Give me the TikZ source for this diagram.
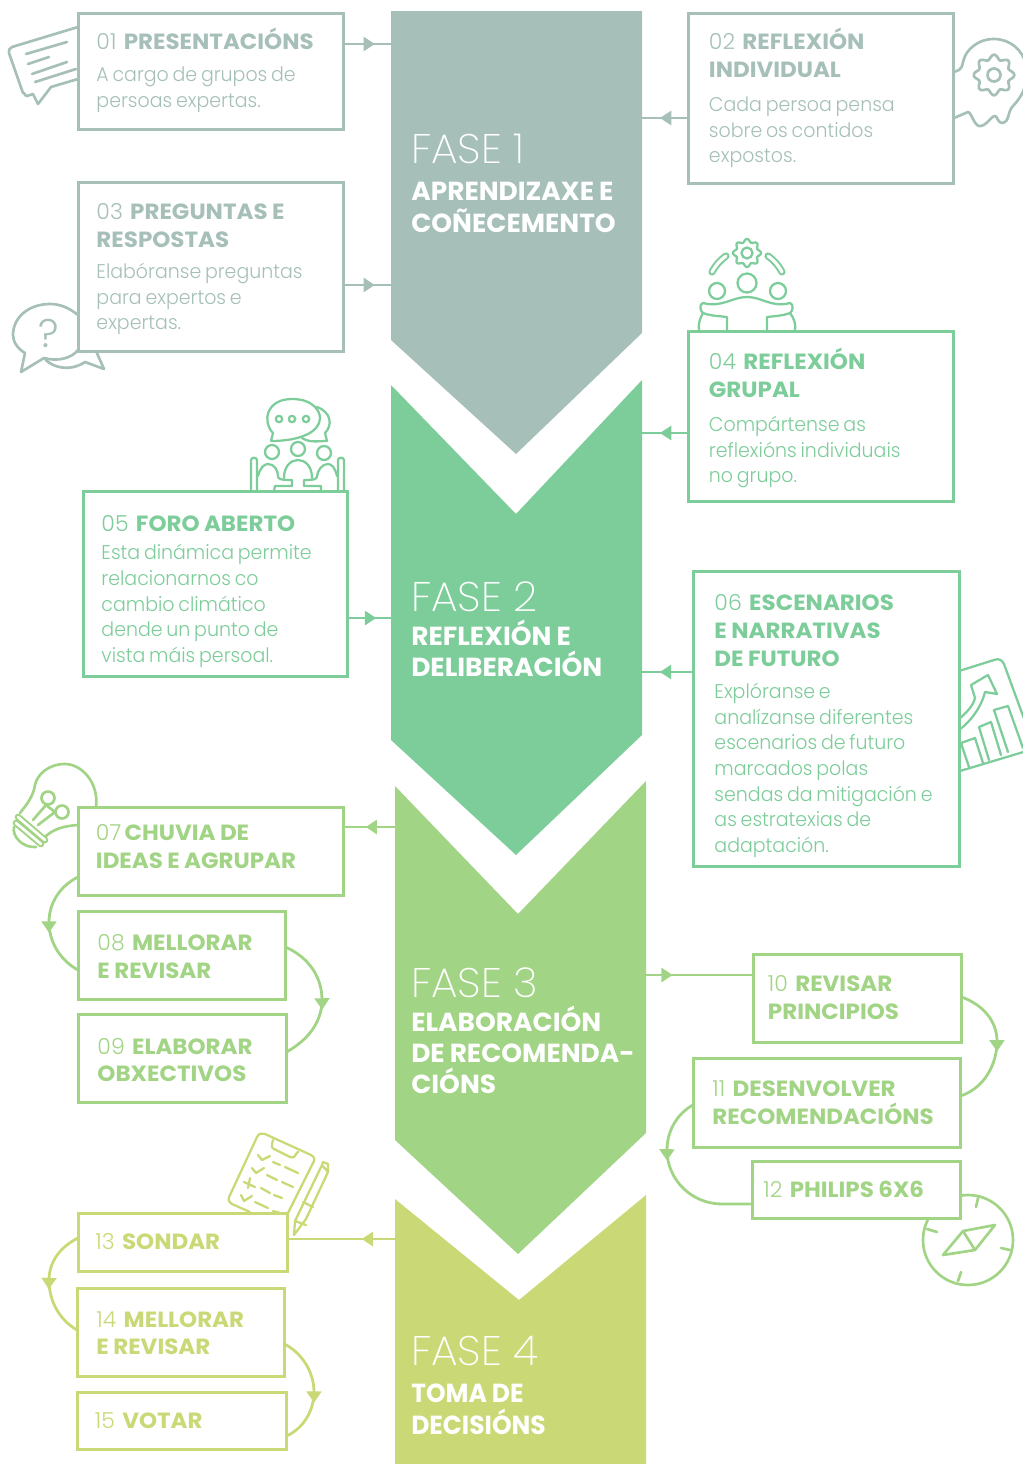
\documentclass[tikz,border=0pt]{standalone}
\usepackage{fontspec}
\setmainfont{Poppins}[UprightFont=* Light,BoldFont=* Bold,BoldFeatures={FakeStretch=1.045}]
\newfontfamily\thinf{Poppins}[UprightFont=* ExtraLight,FakeStretch=1.02]
\newfontfamily\bodyf{Poppins}[UprightFont=* Light,FakeStretch=0.955]
\newfontfamily\fnf{Poppins}[UprightFont=* Bold,FakeStretch=1.012]
\newfontfamily\fnnarrowf{Poppins}[UprightFont=* Bold,FakeStretch=0.955]
\newcommand{\hb}[1]{{\bfseries\spaceskip=.2em\relax #1}}
\newcommand{\bodytext}[1]{{\spaceskip=.19em\relax #1\par}}
\newcommand{\nametext}[1]{{\spaceskip=.19em\relax #1\par}}
\usetikzlibrary{arrows.meta,decorations.markings}
\definecolor{cA}{HTML}{A6C0B9}
\definecolor{cB}{HTML}{7DCD9A}
\definecolor{cC}{HTML}{A2D485}
\definecolor{cD}{HTML}{CAD976}
\newcommand{\boxnode}[6]{\node[tbox,draw=#6,minimum width={(#4-#2)*.75pt},minimum height={(#5-#3)*.75pt}] (#1) at ({(#2+#4)/2},{(#3+#5)/2}) {};}
\newcommand{\areanode}[5]{\node[inner sep=0pt,outer sep=0pt,minimum width={(#4-#2)*.75pt},minimum height={(#5-#3)*.75pt}] (#1) at ({(#2+#4)/2},{(#3+#5)/2}) {};}
\newcommand{\gearicon}[5]{\draw[#5,line join=round] plot[smooth cycle,samples=65,domain=0:354.375] ({#1+(#3+.13*#3*cos(8*\x))*cos(\x)},{#2+(#3+.13*#3*cos(8*\x))*sin(\x)});
 \draw[#5] (#1,#2) circle[radius=#4];}
\tikzset{
 x=.75pt,y=-.75pt,
 tbox/.style={fill=white,line width=2.25pt,inner sep=0pt,outer sep=0pt},
 hd/.style={anchor=base west,inner sep=0pt,xshift=-.6pt,text width=500pt,align=left,font=\fontsize{16.5}{21}\selectfont},
 bd/.style={anchor=base west,inner sep=0pt,xshift=-.6pt,text width=500pt,align=left,font=\bodyf\fontsize{14.9}{19.25}\selectfont},
 ftitle/.style={anchor=base west,inner sep=0pt,text=white,font=\thinf\fontsize{31}{32}\selectfont},
 fname/.style={anchor=base west,inner sep=0pt,text width=300pt,align=left,text=white,font=\fnf\fontsize{19.6}{23.6}\selectfont},
 conn/.style={line width=2.1pt},
 arrowat/.style={postaction={decorate,decoration={markings,mark=at position #1 with {\arrow{Triangle[length=8.5pt,width=10.5pt]}}}}},
 curvearrow/.style={postaction={decorate,decoration={markings,mark=at position #1 with {\arrow[xshift=8pt]{Triangle[length=8.5pt,width=11pt]}}}}},
 ico/.style={line width=2pt,line cap=round,line join=round},
 ico2/.style={line width=1.7pt,line cap=round,line join=round},
}
\begin{document}
\begin{tikzpicture}
\useasboundingbox (0,0) rectangle (1023,1464);
% chevrons
\fill[cA] (391,11)--(642,11)--(642,333)--(516,454)--(391,340)--cycle;
\fill[cB] (391,385)--(516,514)--(642,380)--(642,735)--(516,855)--(391,740)--cycle;
\fill[cC] (395,786)--(518,914)--(646,781)--(646,1133)--(518,1254)--(395,1140)--cycle;
\fill[cD] (395,1199)--(519,1300)--(646,1195)--(646,1464)--(395,1464)--cycle;
\areanode{f1}{391}{11}{642}{340}
\areanode{f2}{391}{385}{642}{740}
\areanode{f3}{395}{786}{646}{1140}
\areanode{f4}{395}{1199}{646}{1464}
\node[ftitle] (ft1) at (411,163) {FASE 1};
\node[fname] (fn1) at (411,200) {\nametext{APRENDIZAXE E\\[.4pt]COÑECEMENTO}};
\node[ftitle] (ft2) at (411,611) {FASE 2};
\node[fname] (fn2) at (411,645) {\nametext{REFLEXIÓN E\\DELIBERACIÓN}};
\node[ftitle] (ft3) at (411,997) {FASE 3};
\node[fname] (fn3) at (411,1031) {\nametext{ELABORACIÓN\\DE RECOMENDA-\\CIÓNS}};
\node[ftitle] (ft4) at (411,1365) {FASE 4};
\node[fname,font=\fnnarrowf\fontsize{19.6}{23.6}\selectfont] (fn4) at (411,1402) {\nametext{TOMA DE\\[.4pt]DECISIÓNS}};
% icons behind boxes
% 01 speech
\draw[cA,ico] (78,27)--(12,47) to[out=200,in=110] (9,53)--(23,93) to[out=70,in=190] (27,96)--(33,94)--(38,104)--(51,87)--(78,79);
\draw[cA,ico] (26,54)--(67,42) (28,64)--(49,57) (32,74)--(67,62) (35,82)--(76,69);
% 03 question
\draw[cA,ico] (78,315) .. controls (68,307) and (59,304) .. (50,304) .. controls (28,304) and (13,318) .. (13,335) .. controls (13,342) and (18,349) .. (25,353) -- (21,372) -- (44,358) .. controls (58,362) and (72,358) .. (78,350);
\draw[cA,ico] (44,358) .. controls (52,368) and (70,372) .. (85,362) -- (104,369) -- (96,351);
\node[inner sep=0pt,anchor=base,text=cA,font=\fontsize{30}{30}\selectfont] (qm) at (48.5,347) {?};
% 02 head
\draw[cA,ico] (954,72)--(959,70) .. controls (964,68) and (961,58) .. (970,49) .. controls (977,42) and (985,39) .. (994,39) .. controls (1010,39) and (1023,50) .. (1026,65) .. controls (1028,80) and (1026,92) .. (1013,106) .. controls (1007,112) and (1010,122) .. (1002,123) .. controls (998,123) and (997,116) .. (995,116) .. controls (991,116) and (986,127) .. (979,126) .. controls (974,125) and (971,112) .. (968,112)--(954,118);
\gearicon{994}{75}{18}{6.5}{cA,ico}
% 04 group
\gearicon{747}{253}{12.5}{5.5}{cB,ico2}
\draw[cB,line width=5.4pt,line cap=round] (712,272) to[bend left=12] (726,256) (768,256) to[bend left=12] (782,272);
\draw[white,line width=2.4pt,line cap=round] (712,272) to[bend left=12] (726,256) (768,256) to[bend left=12] (782,272);
\draw[cB,ico2] (747,283) circle[radius=9.5] (717,291) circle[radius=8] (778,291) circle[radius=8];
\draw[cB,ico2] (703,303) .. controls (722,308) and (732,297) .. (747,297) .. controls (762,297) and (772,308) .. (790,303) .. controls (794,304) and (793,311) .. (790,313) .. controls (782,316) and (775,316) .. (767,317)--(767,331);
\draw[cB,ico2] (703,303) .. controls (699,304) and (700,311) .. (703,313) .. controls (711,316) and (719,316) .. (727,317)--(727,331);
\draw[cB,ico2] (699,331) .. controls (698,324) and (700,318) .. (703,313) (795,331) .. controls (796,324) and (794,318) .. (790,313);
% 05 forum
\draw[cB,ico2] (302,438) .. controls (310,443) and (318,441) .. (327,441) -- (325,433) .. controls (333,425) and (331,412) .. (317,407);
\draw[cB,ico2] (271,441)--(273,433) .. controls (262,422) and (266,399) .. (292,399) .. controls (313,399) and (320,411) .. (320,418) .. controls (320,432) and (300,441) .. (271,441);
\draw[cB,ico2] (279,419) circle[radius=3.2] (292,419) circle[radius=3.2] (306,419) circle[radius=3.2];
\draw[cB,ico2] (272,452) circle[radius=7] (298,449) circle[radius=7] (324,453) circle[radius=7];
\draw[cB,ico2] (251,491)--(251,460) .. controls (251,457) and (257,457) .. (257,460)--(257,491);
\draw[cB,ico2] (338,491)--(338,460) .. controls (338,457) and (344,457) .. (344,460)--(344,491);
\draw[cB,ico2] (258,476) .. controls (260,468) and (264,464) .. (268,464) .. controls (274,464) and (278,470) .. (278,476) .. controls (278,479) and (280,480) .. (292,480)--(292,486)--(275,486)--(274,491);
\draw[cB,ico2] (337,476) .. controls (335,468) and (332,464) .. (328,464) .. controls (322,464) and (318,470) .. (317,476) .. controls (317,479) and (315,480) .. (304,480)--(304,486)--(321,486)--(321,491);
\draw[cB,ico2] (284,478) .. controls (284,466) and (291,460) .. (298,460) .. controls (305,460) and (312,466) .. (312,478);
% 06 chart
\draw[cB,ico2] (959,671)--(994,660) .. controls (999,658) and (1002,660) .. (1004,664)--(1030,735);
\draw[cB,ico2] (960,771)--(1030,750);
\draw[cB,ico2] (959,719) .. controls (967,712) and (973,706) .. (975,698)--(971,685)--(988,675)--(997,694)--(985,692) .. controls (981,708) and (970,722) .. (959,730);
\draw[cB,ico2] (969,767)--(961,743)--(975,738)--(983,763);
\draw[cB,ico2] (989,760)--(979,727)--(991,722)--(1001,755);
\draw[cB,ico2] (1008,752)--(994,710)--(1008,706)--(1023,748);
% 07 bulb
\draw[cC,ico] (96,807) .. controls (99,783) and (82,764) .. (65,764) .. controls (48,764) and (37,775) .. (35,785) .. controls (33,797) and (27,804) .. (20,813);
\draw[cC,ico] (45,837) .. controls (52,830) and (62,826) .. (78,825);
\draw[cC,line width=5pt,line cap=round] (18,817)--(45,840) (16,823)--(41,844);
\draw[white,line width=2pt,line cap=round] (18,817)--(45,840) (16,823)--(41,844);
\draw[cC,ico] (14,827) .. controls (12,836) and (22,848) .. (36,847);
\draw[cC,ico] (48,798) circle[radius=6.5] (62,812) circle[radius=6.5];
\draw[cC,ico] (33,820)--(46,805)--(55,812)--(38,825);
% 12 compass
\draw[cC,ico] (968,1240) circle[radius=45];
\draw[cC,ico] (978,1198)--(976,1207) (927,1229)--(937,1232) (1001,1248)--(1010,1250) (961,1272)--(958,1281);
\draw[cC,ico] (995,1225)--(963,1231)--(943,1255)--(975,1250)--cycle (963,1231)--(975,1250);
% 13 clipboard
\draw[cD,ico2] (250,1212)--(232,1204) .. controls (228,1202) and (228,1198) .. (230,1195)--(257,1137) .. controls (259,1133) and (262,1133) .. (265,1134)--(311,1155) .. controls (315,1157) and (315,1160) .. (313,1163)--(288,1213);
\draw[cD,ico2] (273,1140)--(272,1144) .. controls (271,1147) and (272,1148) .. (274,1149)--(290,1157) .. controls (293,1158) and (295,1157) .. (296,1154)--(298,1152);
\draw[cD,ico2] (258,1155)--(262,1160)--(270,1156) (252,1168)--(256,1173)--(264,1168) (241,1195)--(244,1201)--(252,1196);
\draw[cD,ico2] (244,1182)--(255,1187) (250,1178)--(248,1188);
\draw[cD,ico2] (273,1162)--(280,1165) (285,1167)--(298,1173) (267,1175)--(277,1180) (282,1182)--(293,1187) (261,1188)--(270,1193) (274,1195)--(282,1198) (255,1202)--(268,1208) (273,1211)--(280,1213);
\draw[cD,ico2] (294,1235)--(295,1221)--(322,1165)--(328,1172)--(306,1219)--cycle (295,1221)--(306,1225) (303,1202)--(313,1207) (322,1165)--(323,1162)--(328,1164)--(328,1172);
% boxes
\boxnode{b01}{78}{13}{343.5}{129}{cA}
\boxnode{b02}{688}{13}{953.5}{183}{cA}
\boxnode{b03}{78}{182}{343.5}{351}{cA}
\boxnode{b04}{688}{331}{953.5}{501}{cB}
\boxnode{b05}{83}{491}{347.5}{676}{cB}
\boxnode{b06}{693}{571}{959}{866}{cB}
\boxnode{b07}{78}{807}{343.5}{895}{cC}
\boxnode{b08}{78}{911}{285.5}{999}{cC}
\boxnode{b09}{78}{1014}{286.5}{1102}{cC}
\boxnode{b10}{753}{954}{961.5}{1042}{cC}
\boxnode{b11}{693}{1058}{960.5}{1147}{cC}
\boxnode{b12}{752}{1161}{960.5}{1218}{cC}
\boxnode{b13}{78}{1213}{287.5}{1271}{cD}
\boxnode{b14}{77}{1288}{284.5}{1376}{cD}
\boxnode{b15}{77}{1392}{286.5}{1449}{cD}
% texts
\node[hd,text=cA] (h01) at (97,49.5) {01 \hb{PRESENTACIÓNS}};
\node[bd,text=cA] (t01) at (97,81.4) {\bodytext{A cargo de grupos de\\persoas expertas.}};
\node[hd,text=cA] (h02) at (709.5,49) {02 \hb{REFLEXIÓN}\\\hb{INDIVIDUAL}};
\node[bd,text=cA] (t02) at (709.5,111.4) {\bodytext{Cada persoa pensa\\sobre os contidos\\expostos.}};
\node[hd,text=cA] (h03) at (97,219.4) {03 \hb{PREGUNTAS E}\\\hb{RESPOSTAS}};
\node[bd,text=cA] (t03) at (97,278.4) {\bodytext{Elabóranse preguntas\\para expertos e\\expertas.}};
\node[hd,text=cB] (h04) at (709.5,369) {04 \hb{REFLEXIÓN}\\\hb{GRUPAL}};
\node[bd,text=cB] (t04) at (709.5,431.4) {\bodytext{Compártense as\\reflexións individuais\\no grupo.}};
\node[hd,text=cB] (h05) at (102,531) {05 \hb{FORO ABERTO}};
\node[bd,text=cB] (t05) at (102,559.9) {\bodytext{Esta dinámica permite\\relacionarnos co\\cambio climático\\dende un punto de\\vista máis persoal.}};
\node[hd,text=cB] (h06) at (715,610.4) {06 \hb{ESCENARIOS}\\\hb{E NARRATIVAS}\\\hb{DE FUTURO}};
\node[bd,text=cB] (t06) at (715,698.5) {\bodytext{Explóranse e\\analízanse diferentes\\escenarios de futuro\\marcados polas\\sendas da mitigación e\\as estratexias de\\adaptación.}};
\node[hd,text=cC] (h07) at (96.5,840) {07\hspace{-3pt} \hb{CHUVIA DE}\\\hb{IDEAS E AGRUPAR}};
\node[hd,text=cC] (h08) at (98,950) {08 \hb{MELLORAR}\\\hb{E REVISAR}};
\node[hd,text=cC] (h09) at (98,1054) {09 \hb{ELABORAR}\\[-.5pt]\hb{OBXECTIVOS}};
\node[hd,text=cC] (h10) at (768.5,991.7) {10 \hb{REVISAR}\\\hb{PRINCIPIOS}};
\node[hd,text=cC] (h11) at (713,1096.4) {11 \hb{DESENVOLVER}\\\hb{RECOMENDACIÓNS}};
\node[hd,text=cC] (h12) at (764,1197.4) {12 \hb{PHILIPS 6X6}};
\node[hd,text=cD] (h13) at (96,1249.7) {13 \hb{SONDAR}};
\node[hd,text=cD] (h14) at (97,1327) {14 \hb{MELLORAR}\\[-.7pt]\hb{E REVISAR}};
\node[hd,text=cD] (h15) at (95.5,1428.7) {15 \hb{VOTAR}};
% connectors
\draw[cA,conn,arrowat=.66] (b01.east |- 0,44) -- (f1.west |- 0,44);
\draw[cA,conn,arrowat=.66] (b03.east |- 0,285) -- (f1.west |- 0,285);
\draw[cA,conn,arrowat=.61] (b02.west |- 0,118) -- (f1.east |- 0,118);
\draw[cB,conn,arrowat=.61] (b04.west |- 0,433) -- (f2.east |- 0,433);
\draw[cB,conn,arrowat=.66] (b05.east |- 0,618) -- (f2.west |- 0,618);
\draw[cB,conn,arrowat=.65] (b06.west |- 0,672) -- (f2.east |- 0,672);
\draw[cC,conn,arrowat=.57] (f3.west |- 0,827) -- (b07.east |- 0,827);
\draw[cC,conn,arrowat=.25] (f3.east |- 0,975) -- (b10.west |- 0,975);
\draw[cD,conn,arrowat=.31] (f4.west |- 0,1239) -- (b13.east |- 0,1239);
\draw[cC,conn,curvearrow=.49] (b07.west |- 0,877) .. controls (60,886) and (49,903) .. (49,922) .. controls (49,942) and (60,960) .. (b08.west |- 0,970);
\draw[cC,conn,curvearrow=.5] (b08.east |- 0,947) .. controls (310,958) and (322,978) .. (322,1000) .. controls (322,1022) and (308,1040) .. (b09.east |- 0,1052);
\draw[cC,conn,curvearrow=.46] (b10.east |- 0,997) .. controls (984,1005) and (997,1022) .. (997,1041) .. controls (997,1065) and (984,1088) .. (b11.east |- 0,1096);
\draw[cC,conn,curvearrow=.32] (b11.west |- 0,1105) .. controls (678,1113) and (667,1130) .. (667,1150) .. controls (667,1180) and (692,1204) .. (722,1204) -- (b12.west |- 0,1204);
\draw[cD,conn,curvearrow=.46] (b13.west |- 0,1238) .. controls (60,1247) and (49,1262) .. (49,1280) .. controls (49,1302) and (60,1320) .. (b14.west |- 0,1330);
\draw[cD,conn,curvearrow=.52] (b14.east |- 0,1344) .. controls (302,1353) and (314,1372) .. (314,1392) .. controls (314,1410) and (304,1428) .. (b15.east |- 0,1436);
\end{tikzpicture}
\end{document}
